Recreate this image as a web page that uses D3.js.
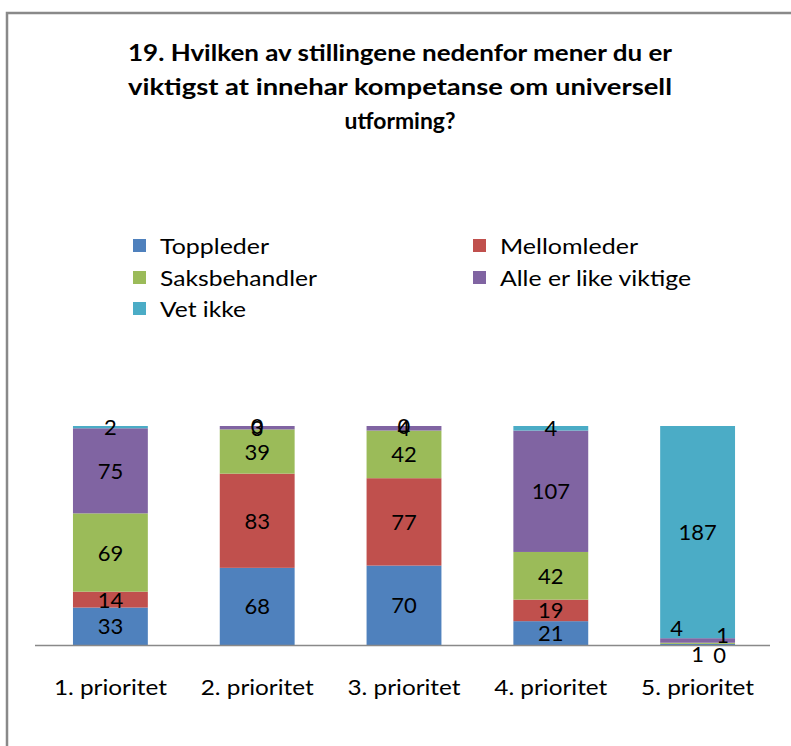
<!DOCTYPE html>
<html><head><meta charset="utf-8">
<script src="https://cdn.jsdelivr.net/npm/d3@7/dist/d3.min.js"></script>
<style>body{margin:0;background:#fff}svg{display:block;font-family:Lato,'Open Sans',sans-serif}</style>
</head><body>
<svg id="c" width="791" height="746"></svg>
<script>
const categories = ["1. prioritet","2. prioritet","3. prioritet","4. prioritet","5. prioritet"];
const seriesNames = ["Toppleder","Mellomleder","Saksbehandler","Alle er like viktige","Vet ikke"];
const toppleder = [33,68,70,21,1];
const mellomleder = [14,83,77,19,0];
const saksbehandler = [69,39,42,42,1];
const alle = [75,3,4,107,4];
const vetIkke = [2,0,0,4,187];
const colors = ["#4F81BD","#C0504D","#9BBB59","#8064A2","#4BACC6"];
const titleLines = ["19. Hvilken av stillingene nedenfor mener du er","viktigst at innehar kompetanse om universell","utforming?"];

const seriesVals = [toppleder, mellomleder, saksbehandler, alle, vetIkke];
const rows = categories.map((c,i)=>{const r={cat:c}; seriesNames.forEach((s,j)=>r[s]=seriesVals[j][i]); return r;});
const stack = d3.stack().keys(seriesNames)(rows);
stack.forEach((s,j)=>s.forEach(p=>p.key=s.key));

const svg = d3.select("#c");
// outer border
svg.append("path").attr("d","M7,746 V13 H791").attr("fill","none").attr("stroke","#898989").attr("stroke-width",2.5);

// title
const tw=[544,544,111];
svg.append("g").selectAll("text").data(titleLines).join("text")
  .attr("x",400).attr("y",(d,i)=>61+i*34).attr("text-anchor","middle")
  .attr("font-size",22).attr("font-weight","bold").attr("fill","#000")
  .attr("textLength",(d,i)=>tw[i]).attr("lengthAdjust","spacingAndGlyphs")
  .text(d=>d);

// legend
const legPos=[[133,246],[473,246],[133,278],[473,278],[133,309]];
const legW=[109,138,157,191,86];
const lg = svg.append("g").selectAll("g").data(seriesNames).join("g")
  .attr("transform",(d,i)=>`translate(${legPos[i][0]},${legPos[i][1]})`);
lg.append("rect").attr("x",0).attr("y",-7).attr("width",13).attr("height",13).attr("fill",(d,i)=>colors[i]);
lg.append("text").attr("x",27).attr("y",8).attr("font-size",22).attr("fill","#000")
  .attr("textLength",(d,i)=>legW[i]).attr("lengthAdjust","spacingAndGlyphs").text(d=>d);

// scales
const x = d3.scaleBand().domain(categories).range([37,771]).paddingInner(0.49).paddingOuter(0.245);
const y = d3.scaleLinear().domain([0,193]).range([645,426]);

svg.append("g").selectAll("g").data(stack).join("g").attr("fill",(d,i)=>colors[i])
  .selectAll("rect").data(d=>d).join("rect")
  .attr("x",d=>x(d.data.cat)).attr("width",x.bandwidth())
  .attr("y",d=>y(d[1])).attr("height",d=>y(d[0])-y(d[1]));

// axis
const xAxis = svg.append("g").attr("transform","translate(0,645)")
  .call(d3.axisBottom(x).tickSize(0).tickPadding(0));
xAxis.select(".domain").attr("d","M35,0.5H770").attr("stroke","#898989").attr("stroke-width",1.5);
xAxis.selectAll("text").attr("font-size",22).attr("fill","#000").attr("dy",0).attr("y",50)
  .attr("font-family","Lato,'Open Sans',sans-serif")
  .attr("textLength",113).attr("lengthAdjust","spacingAndGlyphs");

// data labels (small-segment labels nudged as in the reference)
const nudge = {"5. prioritet|Toppleder":[0,10],"5. prioritet|Mellomleder":[22,11],
  "5. prioritet|Saksbehandler":[25,-8],"5. prioritet|Alle er like viktige":[-21,-12]};
svg.append("g").selectAll("g").data(stack).join("g")
  .selectAll("text").data(d=>d).join("text")
  .attr("x",d=>x(d.data.cat)+x.bandwidth()/2+((nudge[d.data.cat+"|"+d.key]||[0,0])[0]))
  .attr("y",d=>(y(d[0])+y(d[1]))/2+8+((nudge[d.data.cat+"|"+d.key]||[0,0])[1]))
  .attr("text-anchor","middle").attr("font-size",22).attr("fill","#000")
  .text(d=>d[1]-d[0]);
</script>
</body></html>
